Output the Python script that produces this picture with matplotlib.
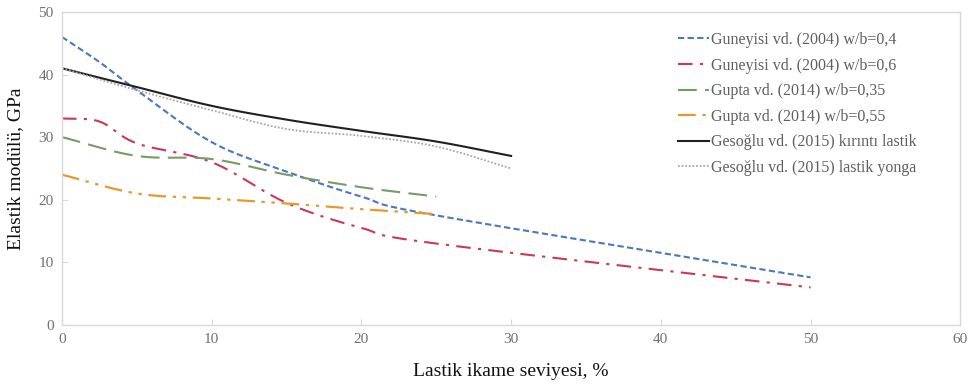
import numpy as np
import matplotlib
matplotlib.use("Agg")
import matplotlib.pyplot as plt

# Rubber replacement level (%) and elastic modulus (GPa) for each study
x_guneyisi = [0, 2.5, 5, 10, 15, 20, 25, 50]
e_guneyisi_04 = [46, 42, 37.5, 29.2, 24.5, 20.5, 17.5, 7.6]
e_guneyisi_06 = [33, 32.5, 29, 26, 19.5, 15.5, 13, 6]

x_gupta = [0, 5, 10, 15, 20, 25]
e_gupta_035 = [30, 27, 26.5, 24, 22, 20.5]
e_gupta_055 = [24, 21, 20.2, 19.4, 18.5, 17.7]

x_gesoglu = [0, 5, 10, 15, 20, 25, 30]
e_gesoglu_crumb = [41, 38, 35, 32.8, 31, 29.3, 27]
e_gesoglu_chip = [41, 37.5, 34.3, 31.3, 30.2, 28.5, 25]

labels = [
    "Guneyisi vd. (2004) w/b=0,4",
    "Guneyisi vd. (2004) w/b=0,6",
    "Gupta vd. (2014) w/b=0,35",
    "Gupta vd. (2014) w/b=0,55",
    "Gesoğlu vd. (2015) kırıntı lastik",
    "Gesoğlu vd. (2015) lastik yonga",
]
x_ticks = [0, 10, 20, 30, 40, 50, 60]
y_ticks = [0, 10, 20, 30, 40, 50]


def smooth(xs, ys, n=20):
    """Catmull-Rom curve through the points (like spreadsheet smoothed lines)."""
    p = np.column_stack([xs, ys]).astype(float)
    p = np.vstack([2 * p[0] - p[1], p, 2 * p[-1] - p[-2]])
    out = []
    t = np.linspace(0, 1, n, endpoint=False)[:, None]
    for i in range(1, len(p) - 2):
        p0, p1, p2, p3 = p[i - 1], p[i], p[i + 1], p[i + 2]
        m1 = (p2 - p0) / 2
        m2 = (p3 - p1) / 2
        h00 = 2 * t**3 - 3 * t**2 + 1
        h10 = t**3 - 2 * t**2 + t
        h01 = -2 * t**3 + 3 * t**2
        h11 = t**3 - t**2
        out.append(h00 * p1 + h10 * m1 + h01 * p2 + h11 * m2)
    out.append(p[-2][None, :])
    c = np.vstack(out)
    return c[:, 0], c[:, 1]


plt.rcParams["font.family"] = ["Liberation Serif", "DejaVu Serif"]

fig = plt.figure(figsize=(9.68, 3.85), dpi=100)
ax = fig.add_axes([0.064, 0.156, 0.928, 0.813])

series = [
    (x_guneyisi, e_guneyisi_04, dict(color="#4a78c0", lw=1.5, ls=(0, (3, 1.6)))),
    (x_guneyisi, e_guneyisi_06, dict(color="#c8385c", lw=1.5, ls=(0, (7, 3.5, 1.5, 3.5)))),
    (x_gupta, e_gupta_035, dict(color="#7a9a68", lw=1.5, ls=(0, (9, 4)))),
    (x_gupta, e_gupta_055, dict(color="#e69a2e", lw=1.6, ls=(0, (8, 3, 1.5, 3, 1.5, 3)))),
    (x_gesoglu, e_gesoglu_crumb, dict(color="#202020", lw=1.5, ls="-")),
    (x_gesoglu, e_gesoglu_chip, dict(color="#a8a8a8", lw=1.3, ls=(0, (1, 1)))),
]
for (xs, ys, st), lab in zip(series, labels):
    sx, sy = smooth(xs, ys)
    ax.plot(sx, sy, label=lab, **st)

ax.set_xlim(0, 60)
ax.set_ylim(0, 50)
ax.set_xticks(x_ticks)
ax.set_yticks(y_ticks)
for s in ax.spines.values():
    s.set_color("#d9d9d9")
    s.set_linewidth(1.0)
ax.tick_params(axis="both", direction="in", length=4, color="#d9d9d9",
               labelsize=11, labelcolor="#707070", pad=6)

ax.set_xlabel("Lastik ikame seviyesi, %", fontsize=14, color="#111111", labelpad=12)
ax.set_ylabel("Elastik modülü, GPa", fontsize=14, color="#111111", labelpad=10)

leg = ax.legend(loc="upper left", bbox_to_anchor=(0.686, 0.936), frameon=False,
                fontsize=11.5, handlelength=1.9, handletextpad=0.15,
                labelspacing=0.6, borderpad=0, borderaxespad=0)
for t in leg.get_texts():
    t.set_color("#5f5f5f")

fig.savefig("out.png", dpi=100)
